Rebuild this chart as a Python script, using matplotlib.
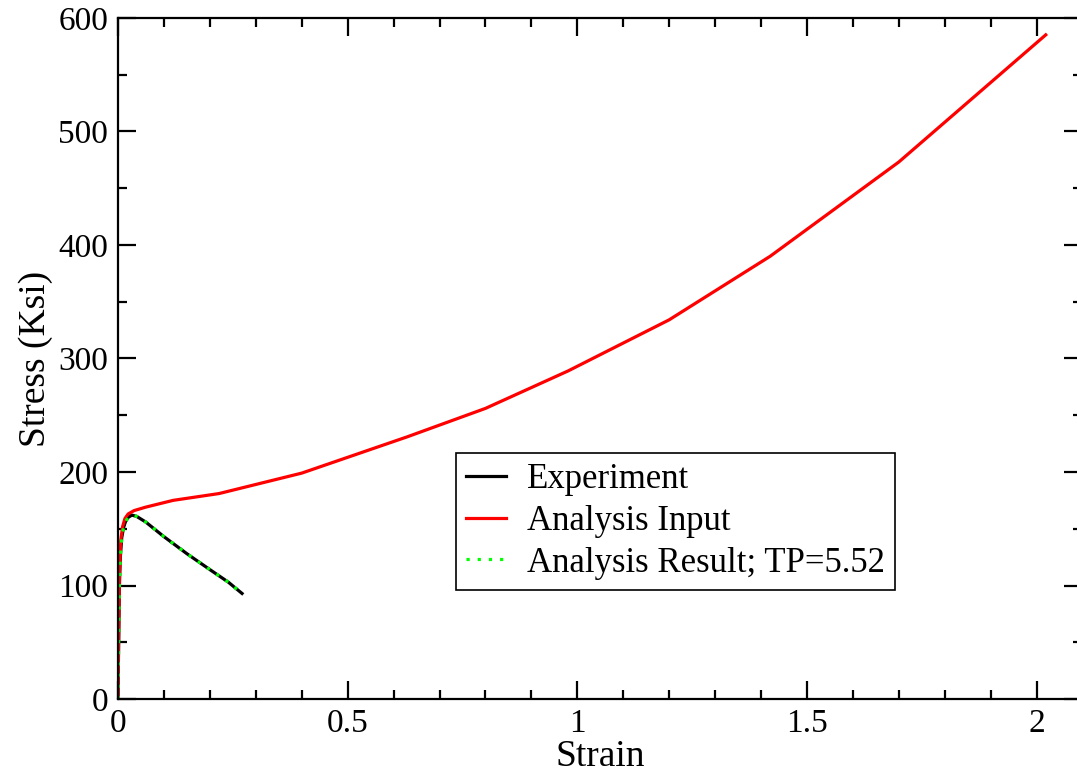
import numpy as np
import matplotlib.pyplot as plt
from matplotlib.ticker import MultipleLocator

plt.rcParams['font.family'] = ['Liberation Serif', 'DejaVu Serif']

# experiment curve (strain, stress Ksi)
exp_strain = [0.0, 0.001, 0.003, 0.005, 0.008, 0.012, 0.016, 0.022, 0.03, 0.04,
              0.06, 0.1, 0.15, 0.2, 0.24, 0.27]
exp_stress = [0.0, 40, 100, 125, 142, 151, 156, 160, 162, 161,
              156, 143, 128, 114, 103, 93]

# analysis input curve
inp_strain = [0.0, 0.001, 0.003, 0.006, 0.01, 0.015, 0.022, 0.035, 0.06, 0.12, 0.22,
              0.4, 0.63, 0.8, 0.98, 1.2, 1.42, 1.7, 2.02]
inp_stress = [0.0, 45, 110, 140, 152, 159, 163, 166, 169, 175, 181,
              199, 231, 256, 289, 334, 390, 473, 585]

# analysis result follows the experiment
res_strain = exp_strain
res_stress = exp_stress

fig = plt.figure(figsize=(10.77, 7.75), dpi=100)
ax = fig.add_axes([0.1096, 0.098, 0.8955, 0.879])

ax.plot(exp_strain, exp_stress, color='black', lw=2.3, label='Experiment')
ax.plot(inp_strain, inp_stress, color='#ff0000', lw=2.3, label='Analysis Input')
ax.plot(res_strain, res_stress, color='#00ff00', lw=2.3, ls=(0, (1, 2.5)),
        label='Analysis Result; TP=5.52')

ax.set_xlim(0, 2.1)
ax.set_ylim(0, 600)
ax.xaxis.set_major_locator(MultipleLocator(0.5))
ax.xaxis.set_minor_locator(MultipleLocator(0.1))
ax.yaxis.set_major_locator(MultipleLocator(100))
ax.yaxis.set_minor_locator(MultipleLocator(50))
ax.set_xticks([0, 0.5, 1, 1.5, 2])
ax.set_xticklabels(['0', '0.5', '1', '1.5', '2'])

ax.tick_params(which='both', direction='in', top=True, right=True,
               labelsize=24, width=1.6, pad=7)
ax.tick_params(which='major', length=13)
ax.tick_params(which='minor', length=6.5)
for s in ax.spines.values():
    s.set_linewidth(1.6)

ax.set_xlabel('Strain', fontsize=27, labelpad=0)
ax.set_ylabel('Stress (Ksi)', fontsize=27, labelpad=4)

leg = ax.legend(loc='lower left', bbox_to_anchor=(0.35, 0.16), fontsize=25,
                frameon=True, fancybox=False, edgecolor='black', framealpha=1,
                handlelength=1.15, handletextpad=0.6, labelspacing=0.25,
                borderpad=0.3, borderaxespad=0)
leg.get_frame().set_linewidth(1.2)

fig.savefig('out.png', dpi=100)
